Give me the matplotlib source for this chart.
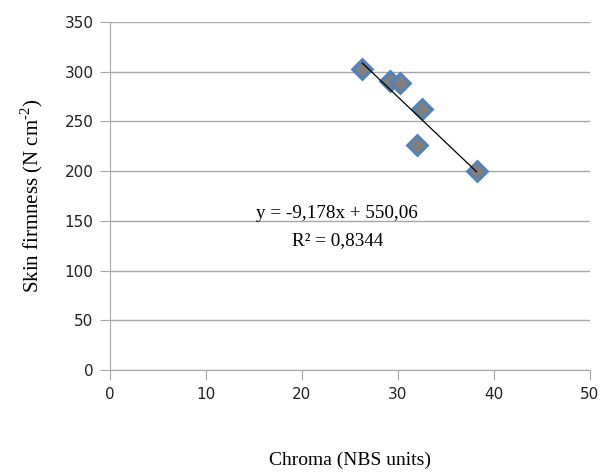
import matplotlib
matplotlib.use("Agg")
import matplotlib.pyplot as plt
import numpy as np

# chroma (NBS units) vs skin firmness (N cm-2)
chroma = [26.3, 29.2, 30.2, 32.5, 32.0, 38.2]
firmness = [303, 291, 289, 263, 226, 200]
slope, intercept = -9.178, 550.06
eq_text = "y = -9,178x + 550,06"
r2_text = "R² = 0,8344"

GRID = "#a6a6a6"
SERIF = "Liberation Serif"
plt.rcParams["mathtext.fontset"] = "custom"
plt.rcParams["mathtext.rm"] = SERIF

fig = plt.figure(figsize=(6.03, 4.75), dpi=100)
ax = fig.add_axes([0.1824, 0.221, 0.7956, 0.7327])

ax.plot(chroma, firmness, ls="none", marker="D", ms=10.5, mfc="#7f7f7f",
        mec="#4f81bd", mew=2.0, zorder=3)

xs = np.array([min(chroma), max(chroma)])
ax.plot(xs, slope * xs + intercept, color="#000000", lw=0.9, zorder=4)

ax.text(23.7, 157, eq_text, ha="center", va="center", fontsize=13.8,
        family=SERIF)
ax.text(23.7, 130, r2_text, ha="center", va="center", fontsize=13.8,
        family=SERIF)

ax.set_xlim(0, 50)
ax.set_ylim(0, 350)
ax.set_xticks(range(0, 51, 10))
ax.set_yticks(range(0, 351, 50))
ax.grid(axis="y", color=GRID, lw=1.0)
ax.set_axisbelow(True)
for side in ("top", "right"):
    ax.spines[side].set_visible(False)
for side in ("left", "bottom"):
    ax.spines[side].set_color(GRID)
ax.tick_params(axis="both", direction="out", length=7, color=GRID,
               labelsize=11, labelcolor="#222222")
ax.tick_params(axis="x", pad=5)
ax.tick_params(axis="y", pad=5)

ax.set_xlabel("Chroma (NBS units)", family=SERIF, fontsize=14, labelpad=36)
ax.set_ylabel(r"Skin firmness (N cm$^{\text{-}2}$)", family=SERIF,
              fontsize=15, labelpad=14)

fig.savefig("out.png", dpi=100)
